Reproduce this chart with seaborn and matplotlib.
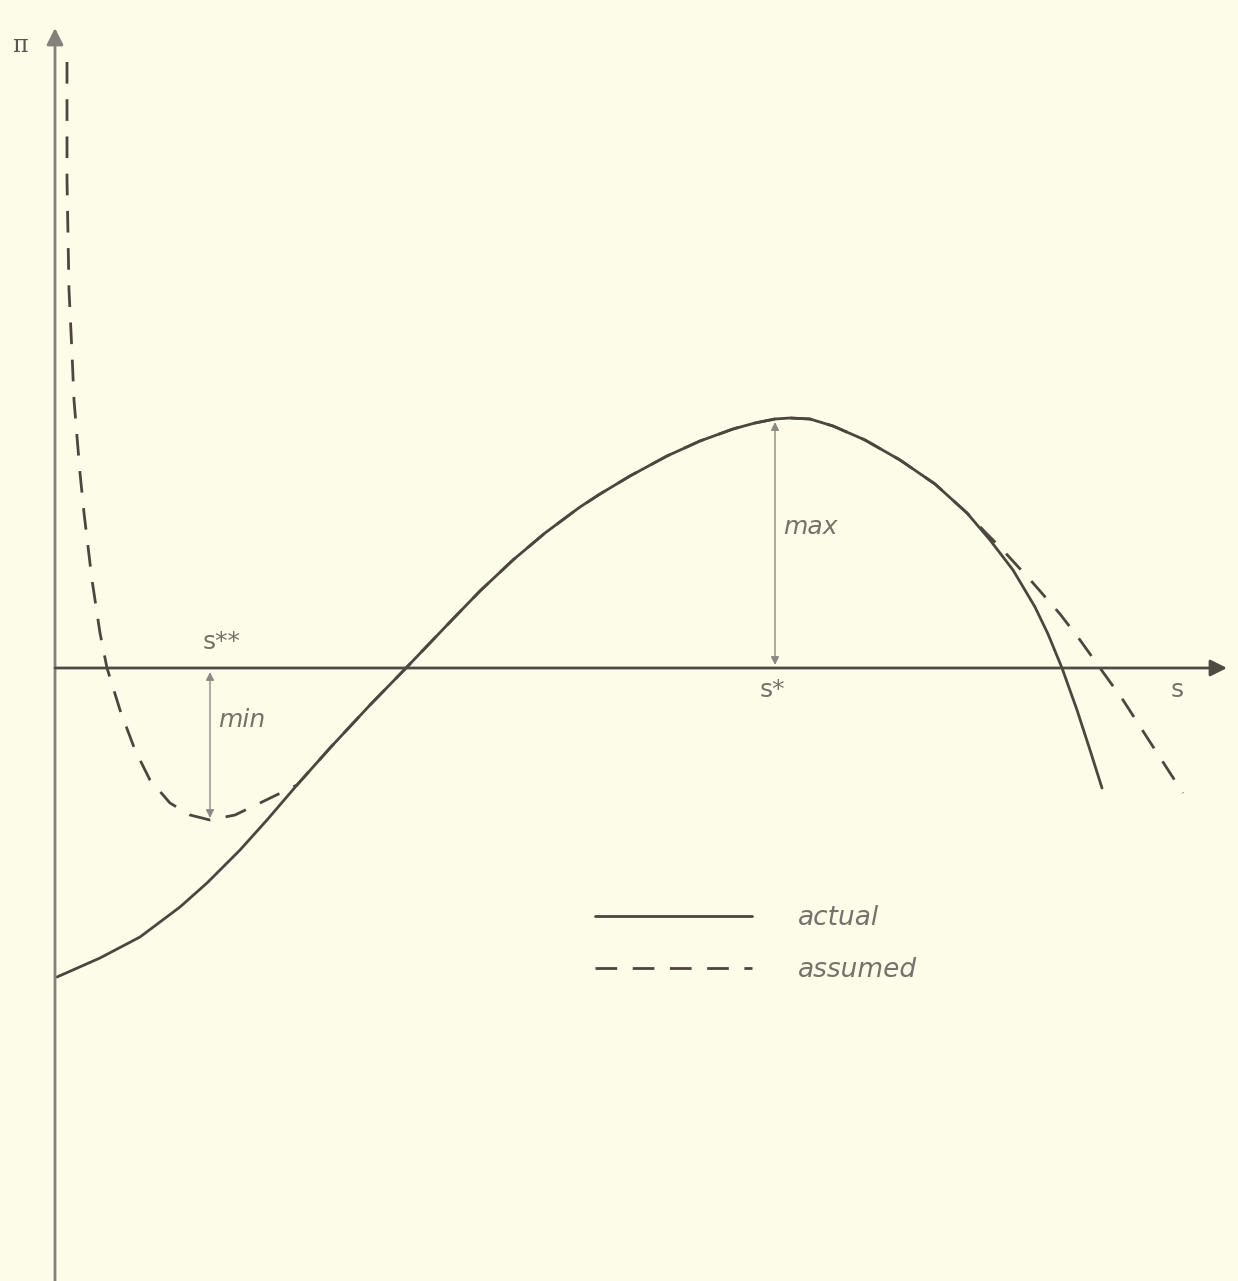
import numpy as np
import pandas as pd
import matplotlib
matplotlib.use("Agg")
import matplotlib.pyplot as plt
import seaborn as sns

# ---- data (s horizontal, pi vertical, arbitrary units) ----
actual_s = [0.02, 0.45, 0.85, 1.25, 1.52, 1.85, 2.12, 2.42, 2.75, 3.15, 3.52, 3.95, 4.25,
            4.58, 4.90, 5.25, 5.45, 5.75, 6.12, 6.45, 6.78, 7.00, 7.20, 7.35, 7.55, 7.78,
            8.10, 8.45, 8.80, 9.12, 9.35, 9.58, 9.80, 9.93, 10.07, 10.22, 10.35, 10.47]
actual_pi = [-3.09, -2.90, -2.69, -2.39, -2.15, -1.82, -1.52, -1.17, -0.80, -0.37, 0.01, 0.46,
             0.77, 1.08, 1.35, 1.61, 1.74, 1.92, 2.12, 2.27, 2.39, 2.45, 2.49, 2.50, 2.49,
             2.42, 2.28, 2.08, 1.84, 1.55, 1.28, 0.98, 0.61, 0.34, 0.00, -0.42, -0.82, -1.20]

assumed_s = [0.12, 0.12, 0.14, 0.17, 0.19, 0.25, 0.29, 0.37, 0.45, 0.52, 0.65, 0.80, 0.95,
             1.15, 1.35, 1.55, 1.80, 2.05, 2.42, 2.75, 3.15, 3.52, 3.95, 4.25, 4.58, 4.90,
             5.25, 5.45, 5.75, 6.12, 6.45, 6.78, 7.00, 7.20, 7.35, 7.55, 7.78, 8.10, 8.45,
             8.80, 9.12, 9.30, 9.45, 9.78, 10.05, 10.25, 10.45, 10.68, 10.95, 11.28]
assumed_pi = [6.06, 4.88, 3.78, 3.15, 2.68, 1.95, 1.55, 0.88, 0.35, 0.00, -0.42, -0.82, -1.12,
              -1.35, -1.47, -1.52, -1.47, -1.35, -1.17, -0.80, -0.37, 0.01, 0.46, 0.77, 1.08,
              1.35, 1.61, 1.74, 1.92, 2.12, 2.27, 2.39, 2.45, 2.49, 2.50, 2.49, 2.42, 2.28,
              2.08, 1.84, 1.55, 1.36, 1.21, 0.85, 0.54, 0.28, 0.00, -0.32, -0.74, -1.25]

s_min_point = 1.55     # s**
min_value = -1.50
s_max_point = 7.20     # s*
max_value = 2.46

series_labels = ["actual", "assumed"]

# ---- style ----
sns.set_theme(style="white")
bg = "#fdfce9"
plt.rcParams["font.family"] = ["DejaVu Sans"]
curve_col = "#4d463e"
text_col = "#76716a"

fig = plt.figure(figsize=(12.38, 12.81), dpi=100, facecolor=bg)
ax = fig.add_axes([0, 0, 1, 1])
ax.set_facecolor(bg)
ax.set_xlim(-0.55, 11.83)
ax.set_ylim(-6.13, 6.68)
ax.set_axis_off()

df_a = pd.DataFrame({"s": actual_s, "pi": actual_pi})
df_b = pd.DataFrame({"s": assumed_s, "pi": assumed_pi})

sns.lineplot(data=df_a, x="s", y="pi", sort=False, estimator=None, ax=ax,
             color=curve_col, lw=2.0, label=series_labels[0])
sns.lineplot(data=df_b, x="s", y="pi", sort=False, estimator=None, ax=ax,
             color=curve_col, lw=2.0, label=series_labels[1])
ax.lines[-1].set_dashes((7.8, 5.6))
for ln in ax.lines:
    ln.set_solid_joinstyle("round")
    ln.set_dash_joinstyle("round")

# axes with arrows
ax.annotate("", xy=(0, 6.40), xytext=(0, -6.13),
            arrowprops=dict(arrowstyle="-|>", color="#85807a", lw=2.0, mutation_scale=25,
                            shrinkA=0, shrinkB=0))
ax.annotate("", xy=(11.72, 0), xytext=(0, 0),
            arrowprops=dict(arrowstyle="-|>", color="#4f4a44", lw=2.0, mutation_scale=25,
                            shrinkA=0, shrinkB=0))

# min / max double arrows
ax.annotate("", xy=(s_min_point, min_value), xytext=(s_min_point, -0.04),
            arrowprops=dict(arrowstyle="<|-|>", color="#8d8882", lw=1.0, mutation_scale=12,
                            shrinkA=0, shrinkB=0))
ax.annotate("", xy=(s_max_point, 0.03), xytext=(s_max_point, max_value),
            arrowprops=dict(arrowstyle="<|-|>", color="#8d8882", lw=1.0, mutation_scale=12,
                            shrinkA=0, shrinkB=0))

# labels
ax.text(-0.35, 6.23, "π", fontsize=17, color="#5a554f", ha="center", va="center",
        family="DejaVu Serif")
ax.text(1.67, 0.26, "s**", fontsize=18, color=text_col, ha="center", va="center")
ax.text(1.63, -0.52, "min", fontsize=18, color=text_col, ha="left", va="center", style="italic")
ax.text(7.28, 1.41, "max", fontsize=18, color=text_col, ha="left", va="center", style="italic")
ax.text(7.17, -0.22, "s*", fontsize=18, color=text_col, ha="center", va="center")
ax.text(11.22, -0.22, "s", fontsize=18, color=text_col, ha="center", va="center")

leg = ax.legend(loc="upper left", bbox_to_anchor=(595 / 1238, 1 - 905 / 1281),
                frameon=False, handlelength=5.95, handletextpad=1.75, labelspacing=1.0,
                borderpad=0, borderaxespad=0,
                prop=dict(size=19, style="italic"))
for t in leg.get_texts():
    t.set_color(text_col)

fig.savefig("out.png", dpi=100, facecolor=bg)
